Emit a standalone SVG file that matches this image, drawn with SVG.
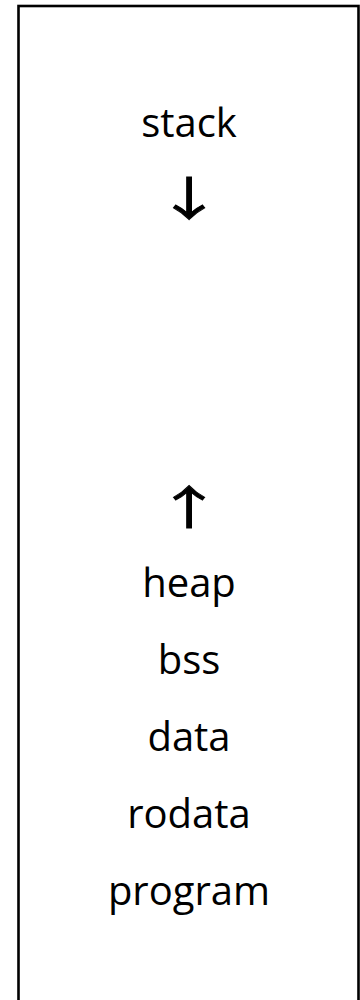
<svg xmlns="http://www.w3.org/2000/svg" width="360" height="1000" viewBox="0 0 360 1000">
  <style>
    .frame { fill: #ffffff; stroke: #000000; stroke-width: 2.6; }
    .label { font-family: "Open Sans", "Noto Sans", "DejaVu Sans", sans-serif; font-size: 40px; fill: #000000; text-anchor: middle; }
    .arrow { font-family: "Noto Sans CJK SC", "DejaVu Sans", sans-serif; font-size: 46px; fill: #000000; stroke: #000000; stroke-width: 0.9; text-anchor: middle; }
  </style>
  <rect x="0" y="0" width="360" height="1000" fill="#ffffff"/>
  <g id="memory">
    <rect class="frame" x="18.5" y="6" width="340" height="1010"/>
  </g>
  <g id="stack"><text class="label" x="189" y="137">stack</text></g>
  <g id="stack-direction" transform="translate(189 0) scale(1.45 1)"><text class="arrow" x="0" y="215">↓</text></g>
  <g id="heap-direction" transform="translate(189 0) scale(1.45 1)"><text class="arrow" x="0" y="524">↑</text></g>
  <g id="heap"><text class="label" x="189" y="597">heap</text></g>
  <g id="bss"><text class="label" x="189" y="674">bss</text></g>
  <g id="data"><text class="label" x="189" y="751">data</text></g>
  <g id="rodata"><text class="label" x="189" y="828">rodata</text></g>
  <g id="program"><text class="label" x="189" y="905">program</text></g>
  <g id="connectors"></g>
</svg>
